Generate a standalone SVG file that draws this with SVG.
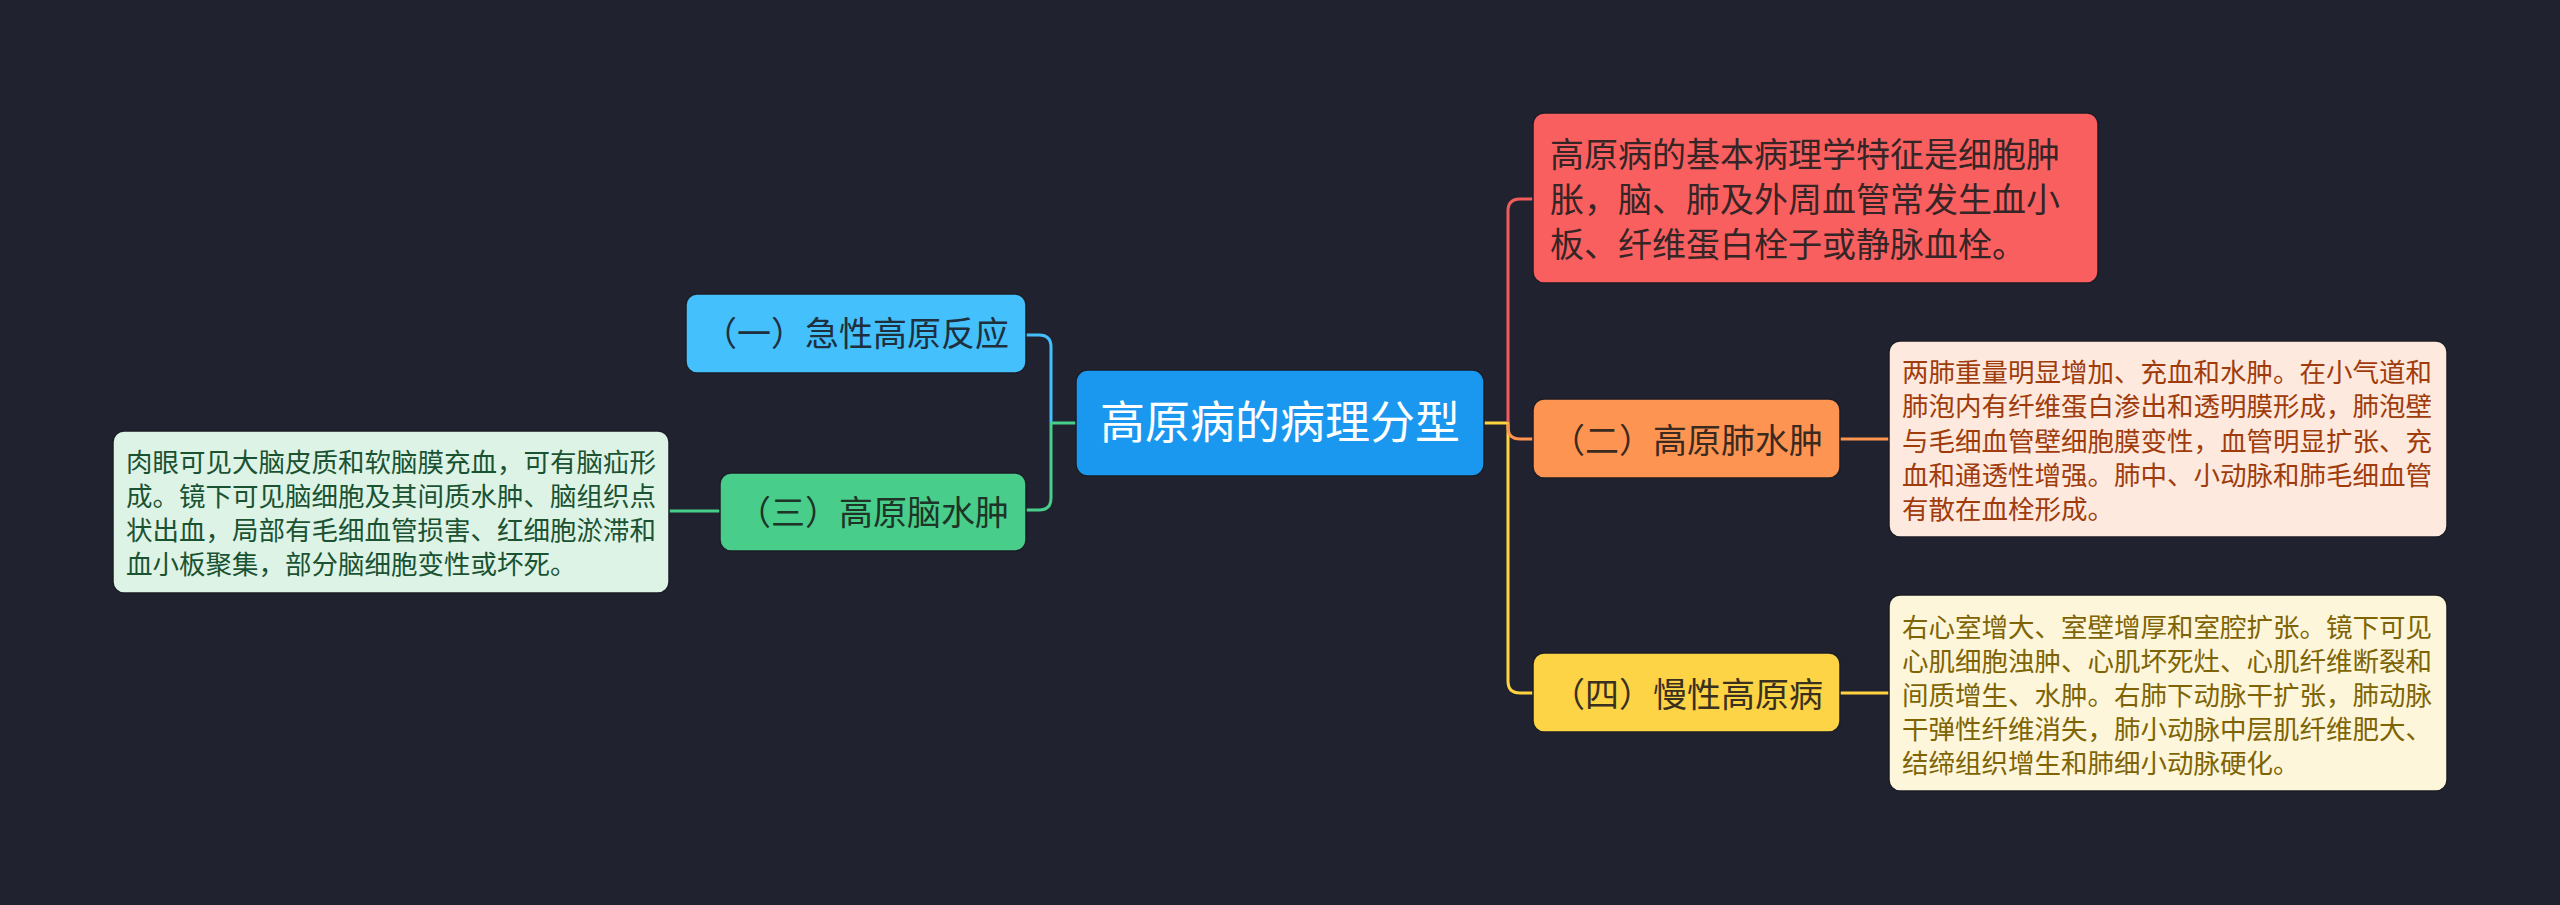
<svg xmlns="http://www.w3.org/2000/svg" width="2560" height="905" viewBox="0 0 2560 905">
<style>
text { font-family: "Noto Sans CJK SC", "Noto Sans", sans-serif; }
.c { fill: none; stroke-width: 3; stroke-linecap: round; }
.nb { stroke: #1b1d26; stroke-width: 1.5; }
.lbl { font-size: 34px; }
.det { font-size: 26.5px; }
</style>
<rect x="0" y="0" width="2560" height="905" fill="#20232f"/>
<g id="connectors">
  <path class="c" stroke="#ffd340" d="M1484,423 H1508 V681 Q1508,693 1520,693 H1533"/>
  <path class="c" stroke="#f25c5c" d="M1508,421 V211 Q1508,199 1520,199 H1533"/>
  <path class="c" stroke="#ff9450" d="M1508,425 V427 Q1508,439 1520,439 H1533"/>
  <path class="c" stroke="#ff9450" d="M1840,439 H1889"/>
  <path class="c" stroke="#ffd340" d="M1840,693 H1889"/>
  <path class="c" stroke="#48cd8b" d="M1076,423 H1051 V498 Q1051,510 1039,510 H1026"/>
  <path class="c" stroke="#42bffc" d="M1051,421 V347 Q1051,335 1039,335 H1026"/>
  <path class="c" stroke="#48cd8b" d="M720,511 H669"/>
</g>
<g id="center">
  <rect x="1076" y="370" width="408" height="106" rx="12" fill="#1a98f0" class="nb"/>
  <text x="1280" y="439" font-size="45" fill="#ffffff" text-anchor="middle">高原病的病理分型</text>
</g>
<g id="n-red">
  <rect x="1533" y="113" width="565" height="170" rx="11" fill="#fa5f5f" class="nb"/>
  <text class="lbl" fill="#352526"><tspan x="1550" y="167">高原病的基本病理学特征是细胞肿</tspan><tspan x="1550" y="212">胀，脑、肺及外周血管常发生血小</tspan><tspan x="1550" y="257">板、纤维蛋白栓子或静脉血栓。</tspan></text>
</g>
<g id="n-orange">
  <rect x="1533" y="399" width="307" height="79" rx="11" fill="#fe9452" class="nb"/>
  <text class="lbl" x="1823" y="453" fill="#3a2a20" text-anchor="end">（二）高原肺水肿</text>
</g>
<g id="d-orange">
  <rect x="1889" y="341" width="558" height="196" rx="11" fill="#fde9de" stroke="#1b1d26" stroke-width="1.5"/>
  <text class="det" fill="#a03c0c"><tspan x="1902" y="382">两肺重量明显增加、充血和水肿。在小气道和</tspan><tspan x="1902" y="416">肺泡内有纤维蛋白渗出和透明膜形成，肺泡壁</tspan><tspan x="1902" y="450.5">与毛细血管壁细胞膜变性，血管明显扩张、充</tspan><tspan x="1902" y="485">血和通透性增强。肺中、小动脉和肺毛细血管</tspan><tspan x="1902" y="519">有散在血栓形成。</tspan></text>
</g>
<g id="n-yellow">
  <rect x="1533" y="653" width="307" height="79" rx="11" fill="#fdd445" class="nb"/>
  <text class="lbl" x="1823" y="707" fill="#3a3020" text-anchor="end">（四）慢性高原病</text>
</g>
<g id="d-yellow">
  <rect x="1889" y="595" width="558" height="196" rx="11" fill="#fdf6da" stroke="#1b1d26" stroke-width="1.5"/>
  <text class="det" fill="#7f6405"><tspan x="1902" y="637">右心室增大、室壁增厚和室腔扩张。镜下可见</tspan><tspan x="1902" y="671">心肌细胞浊肿、心肌坏死灶、心肌纤维断裂和</tspan><tspan x="1902" y="705">间质增生、水肿。右肺下动脉干扩张，肺动脉</tspan><tspan x="1902" y="739">干弹性纤维消失，肺小动脉中层肌纤维肥大、</tspan><tspan x="1902" y="773">结缔组织增生和肺细小动脉硬化。</tspan></text>
</g>
<g id="n-blue">
  <rect x="686" y="294" width="340" height="79" rx="11" fill="#44c0fd" class="nb"/>
  <text class="lbl" x="1009" y="346" fill="#1e2f3d" text-anchor="end">（一）急性高原反应</text>
</g>
<g id="n-green">
  <rect x="720" y="473" width="306" height="78" rx="11" fill="#49cd8b" class="nb"/>
  <text class="lbl" x="1009" y="525" fill="#1d3427" text-anchor="end">（三）高原脑水肿</text>
</g>
<g id="d-green">
  <rect x="113" y="431" width="556" height="162" rx="11" fill="#dcf3e6" stroke="#1b1d26" stroke-width="1.5"/>
  <text class="det" fill="#1a5232"><tspan x="126" y="472">肉眼可见大脑皮质和软脑膜充血，可有脑疝形</tspan><tspan x="126" y="506">成。镜下可见脑细胞及其间质水肿、脑组织点</tspan><tspan x="126" y="540">状出血，局部有毛细血管损害、红细胞淤滞和</tspan><tspan x="126" y="574">血小板聚集，部分脑细胞变性或坏死。</tspan></text>
</g>
</svg>
